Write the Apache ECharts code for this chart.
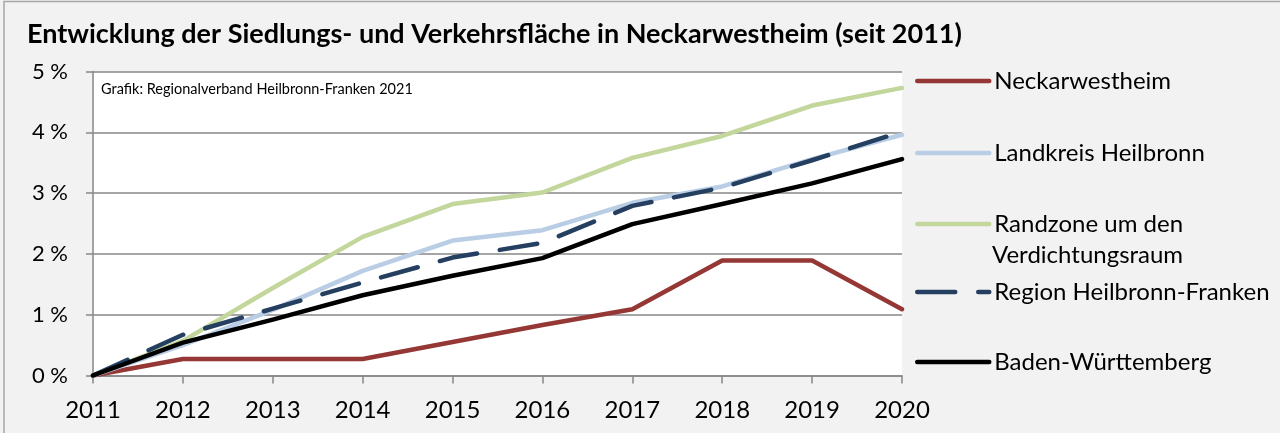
<!DOCTYPE html>
<html lang="de">
<head>
<meta charset="utf-8">
<title>Siedlungs- und Verkehrsfläche Neckarwestheim</title>
<script src="https://cdn.jsdelivr.net/npm/echarts@6/dist/echarts.min.js"></script>
<style>
  html, body { margin: 0; padding: 0; background: #fff; }
  #main { width: 1280px; height: 433px; }
</style>
</head>
<body>
<div id="main"></div>
<script type="text/javascript">
// years on the x axis
let years = ['2011', '2012', '2013', '2014', '2015', '2016', '2017', '2018', '2019', '2020'];

// growth since 2011 in percent
let neckarwestheim = [0, 0.27, 0.27, 0.27, 0.55, 0.83, 1.09, 1.89, 1.89, 1.09];
let landkreisHeilbronn = [0, 0.50, 1.08, 1.72, 2.22, 2.39, 2.84, 3.11, 3.56, 3.96];
let randzone = [0, 0.57, 1.44, 2.28, 2.82, 3.01, 3.58, 3.94, 4.44, 4.73];
let regionHNF = [0, 0.67, 1.10, 1.53, 1.94, 2.18, 2.79, 3.09, 3.54, 4.01];
let badenWuerttemberg = [0, 0.54, 0.92, 1.32, 1.64, 1.93, 2.49, 2.82, 3.16, 3.56];

let seriesNames = ['Neckarwestheim', 'Landkreis Heilbronn', 'Randzone um den', 'Region Heilbronn-Franken', 'Baden-Württemberg'];
let seriesValues = [neckarwestheim, landkreisHeilbronn, randzone, regionHNF, badenWuerttemberg];
let seriesColors = ['#953735', '#b9cde5', '#c3d69b', '#243f60', '#000000'];

// y centre of each legend line
let legendY = [81, 153, 224, 292, 362];

let fontName = 'Lato, "Open Sans", sans-serif';
let gridColor = '#878787';

let chart = echarts.init(document.getElementById('main'));

let series = seriesNames.map((name, i) => ({
    name: name,
    type: 'line',
    data: seriesValues[i],
    symbol: 'none',
    showSymbol: false,
    smooth: false,
    lineStyle: {
        color: seriesColors[i],
        width: 4.5,
        type: i === 3 ? [38, 23] : 'solid',
        cap: 'round',
        join: 'round'
    },
    itemStyle: { color: seriesColors[i] }
}));

// one legend per series so each entry sits where it does in the original
let legends = seriesNames.map((name, i) => ({
    data: [name],
    left: 915,
    top: legendY[i] - 15,
    padding: 0,
    itemWidth: 72,
    itemHeight: 14,
    lineStyle: { width: 4.5, cap: 'round' },
    itemStyle: { opacity: 0 },
    selectedMode: false,
    textStyle: { fontFamily: fontName, fontSize: 24, color: '#000', lineHeight: 30 }
}));

let option = {
    backgroundColor: '#f2f2f2',
    animation: false,
    title: [{
        text: 'Entwicklung der Siedlungs- und Verkehrsfläche in Neckarwestheim (seit 2011)',
        left: 22,
        top: 16,
        textStyle: { fontFamily: fontName, fontSize: 27, fontWeight: 'bold', color: '#000' }
    }, {
        text: 'Grafik: Regionalverband Heilbronn-Franken 2021',
        left: 96,
        top: 77,
        textStyle: { fontFamily: fontName, fontSize: 14.5, fontWeight: 'normal', color: '#000' }
    }],
    legend: legends,
    graphic: [{
        type: 'text',
        left: 992,
        top: 243,
        style: { text: 'Verdichtungsraum', font: '24px ' + fontName, fill: '#000' }
    }, {
        type: 'rect',
        shape: { x: 4, y: 1.5, width: 1400, height: 600 },
        style: { fill: 'none', stroke: '#a6a6a6', lineWidth: 1.5 },
        silent: true
    }],
    grid: {
        left: 93,
        right: 378,
        top: 71.5,
        bottom: 57.5,
        show: true,
        backgroundColor: '#ffffff',
        borderWidth: 0
    },
    xAxis: {
        type: 'category',
        data: years,
        boundaryGap: false,
        axisLine: { lineStyle: { color: gridColor, width: 1.5 } },
        axisTick: { alignWithLabel: true, length: 8, lineStyle: { color: gridColor, width: 1.5 } },
        axisLabel: { fontFamily: fontName, fontSize: 24, color: '#000', margin: 23 },
        splitLine: { show: false }
    },
    yAxis: {
        type: 'value',
        min: 0,
        max: 5,
        interval: 1,
        axisLine: { show: true, lineStyle: { color: gridColor, width: 1.5 } },
        axisTick: { show: true, length: 7, lineStyle: { color: gridColor, width: 1.5 } },
        axisLabel: { fontFamily: fontName, fontSize: 22, color: '#000', margin: 25, formatter: '{value} %' },
        splitLine: { lineStyle: { color: gridColor, width: 1.5 } }
    },
    series: series
};

chart.setOption(option);
</script>
</body>
</html>
